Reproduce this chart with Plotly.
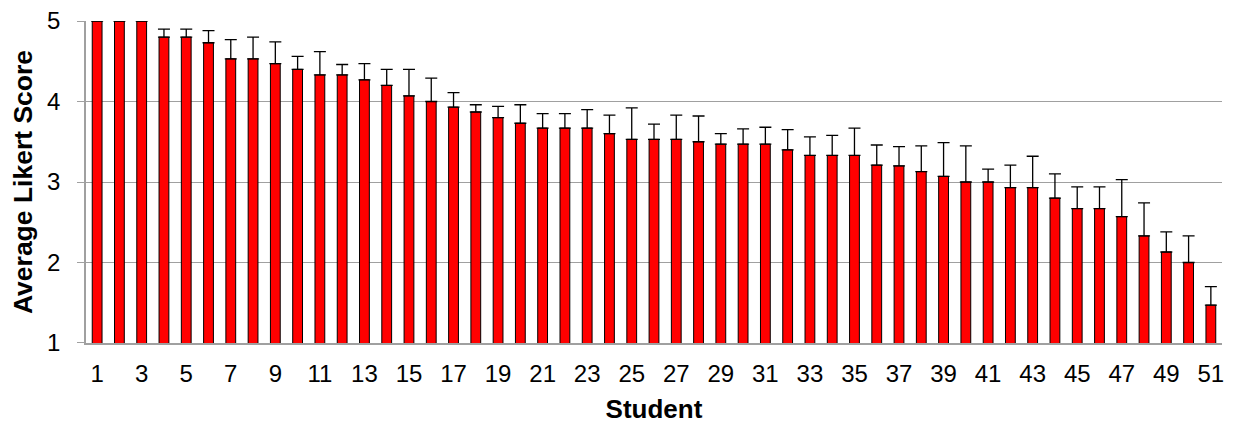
import plotly.graph_objects as go

students = list(range(1, 52))
scores = [5.0, 5.0, 5.0, 4.8, 4.8, 4.73, 4.53, 4.53, 4.47, 4.4,
          4.33, 4.33, 4.27, 4.2, 4.07, 4.0, 3.93, 3.87, 3.8, 3.73,
          3.67, 3.67, 3.67, 3.6, 3.53, 3.53, 3.53, 3.5, 3.47, 3.47,
          3.47, 3.4, 3.33, 3.33, 3.33, 3.21, 3.2, 3.13, 3.07, 3.0,
          3.0, 2.93, 2.93, 2.8, 2.67, 2.67, 2.57, 2.33, 2.13, 2.0, 1.47]
errors = [0.0, 0.0, 0.0, 0.10, 0.10, 0.15, 0.24, 0.27, 0.27, 0.16,
          0.29, 0.13, 0.20, 0.20, 0.33, 0.29, 0.18, 0.09, 0.14, 0.23,
          0.18, 0.18, 0.23, 0.23, 0.39, 0.19, 0.30, 0.32, 0.13, 0.19,
          0.21, 0.25, 0.23, 0.25, 0.34, 0.25, 0.24, 0.32, 0.42, 0.45,
          0.16, 0.28, 0.39, 0.30, 0.27, 0.27, 0.46, 0.41, 0.25, 0.33, 0.23]
x_ticks = list(range(1, 52, 2))
y_ticks = [1, 2, 3, 4, 5]

fig = go.Figure()
fig.add_trace(go.Bar(
    x=students, y=scores,
    marker=dict(color="#FF0000", line=dict(color="black", width=1)),
    error_y=dict(type="data", array=errors, symmetric=False,
                 arrayminus=[0] * len(errors),
                 color="black", thickness=1.3, width=6),
))

font_family = "Liberation Sans, Arial, sans-serif"
fig.update_layout(
    width=1225, height=423,
    margin=dict(l=78, r=11, t=13, b=88, autoexpand=False),
    paper_bgcolor="white", plot_bgcolor="white",
    bargap=0.56,
    showlegend=False,
    font=dict(family=font_family, size=24, color="black"),
)
fig.update_xaxes(
    range=[0.5, 51.5], tickvals=x_ticks, ticktext=[str(t) for t in x_ticks],
    showgrid=False, showline=True, linecolor="#A0A0A0", linewidth=1.5,
    ticks="", tickfont=dict(size=24), ticklabelstandoff=8,
    automargin=False,
    title=dict(text="<b>Student</b>", font=dict(size=26), standoff=14),
)
fig.update_yaxes(
    range=[0.9995, 5.0005], tickvals=y_ticks, showgrid=True, gridcolor="#A0A0A0", gridwidth=1.3,
    showline=True, linecolor="#A0A0A0", linewidth=1.5,
    ticks="outside", ticklen=7, tickcolor="#A0A0A0", tickwidth=1.3,
    tickfont=dict(size=24), ticklabelstandoff=12, ticklabeloverflow="allow",
    automargin=False,
    title=dict(text="<b>Average Likert Score</b>", font=dict(size=26.5), standoff=12),
    zeroline=False,
)
fig.write_html("out.html")
